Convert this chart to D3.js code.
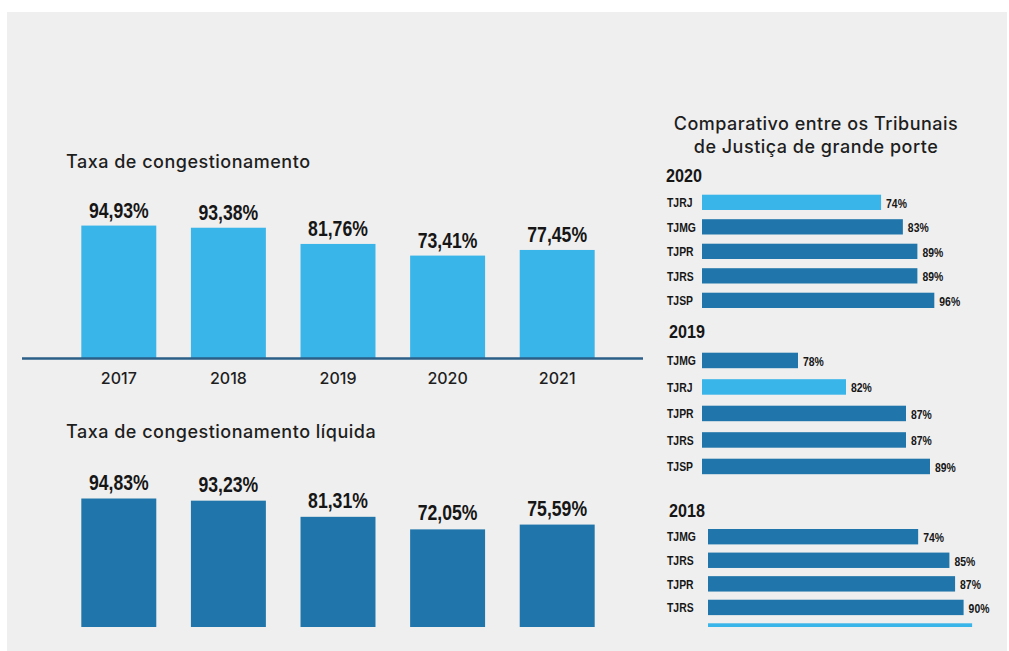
<!DOCTYPE html>
<html>
<head>
<meta charset="utf-8">
<script src="https://cdn.jsdelivr.net/npm/d3@7"></script>
<style>
  html, body { margin: 0; padding: 0; background: #ffffff; }
  svg { display: block; }
</style>
</head>
<body>
<svg id="chart" width="1009" height="651"></svg>
<script>
// Taxa de congestionamento (%), por ano
const years = ["2017", "2018", "2019", "2020", "2021"];
const congestion = [94.93, 93.38, 81.76, 73.41, 77.45];
// Taxa de congestionamento líquida (%)
const netCongestion = [94.83, 93.23, 81.31, 72.05, 75.59];

// Comparativo entre os Tribunais de Justiça de grande porte (%)
const courts2020 = ["TJRJ", "TJMG", "TJPR", "TJRS", "TJSP"];
const rates2020 = [74, 83, 89, 89, 96];
const courts2019 = ["TJMG", "TJRJ", "TJPR", "TJRS", "TJSP"];
const rates2019 = [78, 82, 87, 87, 89];
const courts2018 = ["TJMG", "TJRS", "TJPR", "TJRS", "TJRJ"];
const rates2018 = [74, 85, 87, 90, 93];

const LIGHT = "#3ab5e9";
const DARK = "#2076aa";
const INK = "#161616";
const HIGHLIGHT = "TJRJ";

const ptBR = d3.formatLocale({ decimal: ",", thousands: ".", grouping: [3], currency: ["R$", ""] });
const fmt2 = v => ptBR.format(".2f")(v) + "%";
const fmt0 = v => ptBR.format(".0f")(v) + "%";

const svg = d3.select("#chart");

// panel background
svg.append("rect")
  .attr("x", 7).attr("y", 12).attr("width", 1000).attr("height", 639)
  .attr("fill", "#efefef");

svg.append("defs").append("clipPath").attr("id", "panelClip")
  .append("rect").attr("x", 0).attr("y", 0).attr("width", 1009).attr("height", 627);

const root = svg.append("g").attr("clip-path", "url(#panelClip)");

const titleFont = "Inter, 'Open Sans', sans-serif";
const boldFont = "'Liberation Sans', Arial, sans-serif";

// heading style shared by the section titles
function heading(sel) {
  return sel
    .attr("font-family", titleFont)
    .attr("font-weight", 500)
    .attr("font-size", 18)
    .attr("letter-spacing", 0.5)
    .attr("fill", "#1e1e1e");
}

// condensed bold label: horizontal squeeze of a bold sans
function condensed(sel, size, squeeze) {
  return sel
    .attr("font-family", boldFont)
    .attr("font-weight", 700)
    .attr("font-size", size)
    .attr("fill", INK)
    .attr("transform", function () {
      const x = +this.getAttribute("data-x"), y = +this.getAttribute("data-y");
      return `translate(${x},${y}) scale(${squeeze},1)`;
    });
}

// ---------- Taxa de congestionamento ----------
const xTop = d3.scaleBand().domain(years).range([64, 612]).paddingInner(0.316).paddingOuter(0.158);
const yTop = d3.scaleLinear().domain([0, 100]).range([358, 358 - 139.5]);

root.append("text")
  .attr("x", 66).attr("y", 168)
  .call(heading)
  .text("Taxa de congestionamento");

const gTop = root.append("g");
gTop.selectAll("rect").data(congestion).join("rect")
  .attr("x", (d, i) => xTop(years[i]))
  .attr("y", d => yTop(d))
  .attr("width", xTop.bandwidth())
  .attr("height", d => yTop(0) - yTop(d))
  .attr("fill", LIGHT);

gTop.selectAll("text.val").data(congestion).join("text")
  .attr("class", "val")
  .attr("data-x", (d, i) => xTop(years[i]) + xTop.bandwidth() / 2)
  .attr("data-y", d => yTop(d) - 7.5)
  .attr("text-anchor", "middle")
  .text(d => fmt2(d))
  .call(condensed, 21.5, 0.82);

// baseline rule
root.append("line")
  .attr("x1", 22).attr("x2", 643).attr("y1", 358.5).attr("y2", 358.5)
  .attr("stroke", "#2b5f88").attr("stroke-width", 2.5);

const axisTop = d3.axisBottom(xTop).tickSize(0).tickPadding(0);
const gAxis = root.append("g").attr("transform", "translate(0,384)").call(axisTop);
gAxis.select(".domain").remove();
gAxis.selectAll("text")
  .attr("dy", 0)
  .attr("font-family", titleFont).attr("font-weight", 500).attr("font-size", 16)
  .attr("fill", "#1e1e1e");

// ---------- Taxa de congestionamento líquida ----------
const xNet = d3.scaleBand().domain(years).range([64, 612]).paddingInner(0.316).paddingOuter(0.158);
const yNet = d3.scaleLinear().domain([0, 100]).range([627, 627 - 135.5]);

root.append("text")
  .attr("x", 66).attr("y", 438)
  .call(heading)
  .text("Taxa de congestionamento líquida");

const gNet = root.append("g");
gNet.selectAll("rect").data(netCongestion).join("rect")
  .attr("x", (d, i) => xNet(years[i]))
  .attr("y", d => yNet(d))
  .attr("width", xNet.bandwidth())
  .attr("height", d => yNet(0) - yNet(d))
  .attr("fill", DARK);

gNet.selectAll("text.val").data(netCongestion).join("text")
  .attr("class", "val")
  .attr("data-x", (d, i) => xNet(years[i]) + xNet.bandwidth() / 2)
  .attr("data-y", d => yNet(d) - 9)
  .attr("text-anchor", "middle")
  .text(d => fmt2(d))
  .call(condensed, 21.5, 0.82);

// ---------- Comparativo entre os Tribunais ----------
const gRight = root.append("g");
gRight.append("text")
  .attr("x", 816).attr("y", 129.5).attr("text-anchor", "middle")
  .call(heading)
  .text("Comparativo entre os Tribunais");
gRight.append("text")
  .attr("x", 816).attr("y", 153).attr("text-anchor", "middle")
  .call(heading)
  .text("de Justiça de grande porte");

const panels = [
  { year: "2020", names: courts2020, values: rates2020, head: [666, 182],
    rows: [194.7, 308], pad: 0.376, domain: [0, 100], span: [702, 944] },
  { year: "2019", names: courts2019, values: rates2019, head: [669, 338],
    rows: [352.7, 474.2], pad: 0.415, domain: [70, 90], span: [702, 942] },
  { year: "2018", names: courts2018, values: rates2018, head: [669, 516.5],
    rows: [529, 638.7], pad: 0.347, domain: [0, 100], span: [708, 992] }
];

panels.forEach(p => {
  const g = gRight.append("g");
  const y = d3.scaleBand().domain(d3.range(p.names.length)).range(p.rows).paddingInner(p.pad).paddingOuter(0);
  const x = d3.scaleLinear().domain(p.domain).range(p.span);
  const x0 = p.span[0];

  g.append("text")
    .attr("data-x", p.head[0]).attr("data-y", p.head[1])
    .text(p.year)
    .call(condensed, 19, 0.85);

  g.selectAll("rect").data(p.values).join("rect")
    .attr("x", x0)
    .attr("y", (d, i) => y(i))
    .attr("width", d => x(d) - x0)
    .attr("height", y.bandwidth())
    .attr("fill", (d, i) => p.names[i] === HIGHLIGHT ? LIGHT : DARK);

  g.selectAll("text.court").data(p.names).join("text")
    .attr("class", "court")
    .attr("data-x", 667)
    .attr("data-y", (d, i) => y(i) + y.bandwidth() / 2 + 4.7)
    .text(d => d)
    .call(condensed, 13, 0.8);

  g.selectAll("text.rate").data(p.values).join("text")
    .attr("class", "rate")
    .attr("data-x", d => x(d) + 5)
    .attr("data-y", (d, i) => y(i) + y.bandwidth() / 2 + 5.5)
    .text(d => fmt0(d))
    .call(condensed, 13, 0.8);
});
</script>
</body>
</html>
